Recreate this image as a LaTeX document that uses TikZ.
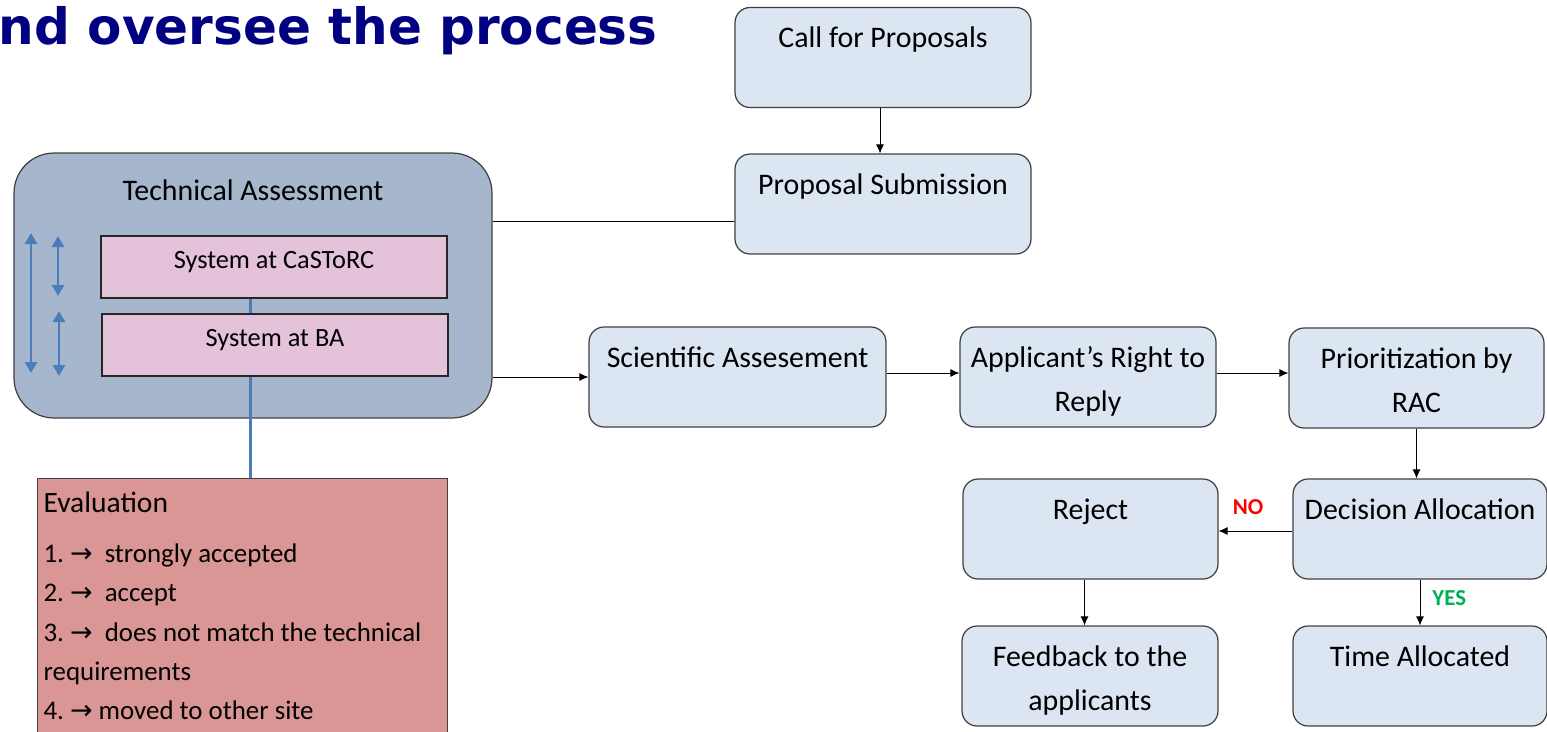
\documentclass[tikz,border=0pt]{standalone}
\usepackage{fontspec}
\setmainfont{Carlito}
\newfontfamily\titlefont{DejaVu Sans}
\newfontfamily\symfont{DejaVu Sans}
\usetikzlibrary{arrows.meta}
\definecolor{boxblue}{HTML}{DCE6F2}
\definecolor{techblue}{HTML}{A6B7CD}
\definecolor{syspink}{HTML}{E4C2DA}
\definecolor{evalred}{HTML}{D99694}
\definecolor{linkblue}{HTML}{4A7EBB}
\definecolor{titleblue}{HTML}{000080}
\definecolor{yesgreen}{HTML}{00B050}
\newcommand{\evarrow}{{\symfont\char"2192}}
\begin{document}
\begin{tikzpicture}[x=0.02cm, y=-0.02cm,
	procbox/.style={draw=black!75, line width=0.7pt, fill=boxblue, rounded corners=0.3cm, inner sep=0pt, align=center,
		text height=0.8cm, text depth=1.2cm, font=\fontsize{17}{25}\selectfont},
	twoline/.style={text height=1.68cm, text depth=0.32cm},
	techbox/.style={draw=black!75, line width=0.7pt, fill=techblue, rounded corners=0.8cm, inner sep=0pt,
		text height=0.94cm, text depth=4.36cm, font=\fontsize{17}{20}\selectfont},
	sysbox/.style={draw=black!85, line width=0.7pt, fill=syspink, inner sep=0pt, minimum width=6.92cm,
		text height=0.65cm, text depth=0.59cm, font=\fontsize{15}{18}\selectfont},
	evalbox/.style={draw=black!75, line width=0.7pt, fill=evalred, anchor=north west, inner xsep=0.12cm, inner ysep=0pt,
		text width=7.96cm, align=flush left, text height=0.68cm, text depth=4.96cm, font=\fontsize{15.3}{22.3}\selectfont},
	flowarrow/.style={-{Latex[length=0.18cm,width=0.16cm]}, line width=0.5pt},
	linkarrow/.style={linkblue, line width=1.7pt, {Triangle[width=0.24cm,length=0.22cm]}-{Triangle[width=0.24cm,length=0.22cm]}},
	linkline/.style={linkblue, line width=1.7pt},
	tag/.style={inner sep=0pt, font=\fontsize{13}{15}\selectfont\bfseries}]
	\clip (0,0) rectangle (1547,731);

	\node[anchor=base east, text=titleblue, inner sep=0pt, font=\titlefont\bfseries\fontsize{28.5}{30}\selectfont] (title) at (658,44) {nd oversee the process};

	\node[procbox, minimum width=5.92cm] (call) at (883,57.5) {Call for Proposals};
	\node[procbox, minimum width=5.92cm] (prop) at (883,204) {Proposal Submission};
	\node[techbox, minimum width=9.56cm] (tech) at (253,285.5) {Technical Assessment};
	\node[sysbox] (castorc) at (274,267) {System at CaSToRC};
	\node[sysbox] (ba) at (275,345) {System at BA};
	\node[evalbox] (eval) at (37,478) {{\fontsize{16.8}{22.3}\selectfont Evaluation}\\[6.2pt]
		1.~\evarrow~~strongly accepted\\
		2.~\evarrow~~accept\\
		3.~\evarrow~~does not match the technical\\
		requirements\\
		4.~\evarrow~moved to other site};

	\node[procbox, minimum width=5.94cm] (sci) at (737.5,377) {Scientific Assesement};
	\node[procbox, twoline, minimum width=5.12cm] (app) at (1088,377) {Applicant's Right to\\Reply};
	\node[procbox, twoline, minimum width=5.1cm] (prio) at (1416.5,378) {Prioritization by\\RAC};
	\node[procbox, minimum width=5.1cm] (rej) at (1090.5,529) {Reject};
	\node[procbox, minimum width=5.08cm] (dec) at (1420,529) {Decision Allocation};
	\node[procbox, twoline, minimum width=5.12cm] (feed) at (1090,676) {Feedback to the\\applicants};
	\node[procbox, minimum width=5.08cm] (time) at (1420,676) {Time Allocated};

	\foreach \x/\ya/\yb in {31/233/373, 58/236/296, 59/311/376}
		\draw[linkarrow] (\x,\ya) -- (\x,\yb);
	\draw[linkline] ([xshift=-0.48cm]castorc.south) -- ([xshift=-0.48cm]castorc.south |- ba.north);
	\draw[linkline] ([xshift=-0.5cm]ba.south) -- ([xshift=-0.5cm]ba.south |- eval.north);

	\draw[flowarrow] ([xshift=-0.06cm]call.south) -- ([xshift=-0.06cm]prop.north);
	\draw[line width=0.5pt] ([yshift=-0.34cm]prop.west) -- ([yshift=-0.34cm]prop.west -| tech.east);
	\draw[flowarrow] (sci.west -| tech.east) -- (sci.west);
	\draw[flowarrow] ([yshift=0.08cm]sci.east) -- ([yshift=0.08cm]sci.east -| app.west);
	\draw[flowarrow] ([yshift=0.08cm]app.east) -- ([yshift=0.08cm]app.east -| prio.west);
	\draw[flowarrow] (prio.south) -- (prio.south |- dec.north);
	\draw[flowarrow] ([yshift=-0.04cm]dec.west) -- ([yshift=-0.04cm]dec.west -| rej.east)
		node[tag, pos=0.6, above=0.32cm, text=red] (no) {NO};
	\draw[flowarrow] (dec.south) -- (time.north)
		node[tag, pos=0.4, right=0.24cm, text=yesgreen] (yes) {YES};
	\draw[flowarrow] ([xshift=-0.12cm]rej.south) -- ([xshift=-0.12cm]rej.south |- feed.north);
\end{tikzpicture}
\end{document}
